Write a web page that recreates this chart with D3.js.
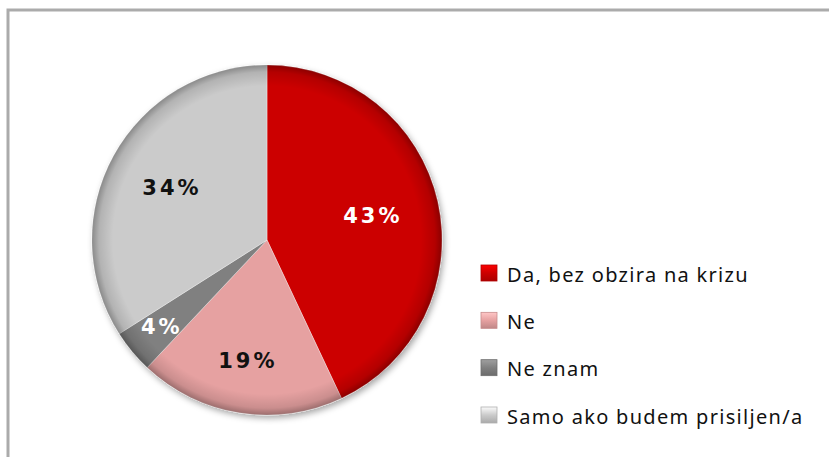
<!DOCTYPE html>
<html>
<head>
<meta charset="utf-8">
<script src="https://cdn.jsdelivr.net/npm/d3@7"></script>
<style>
  body { margin: 0; background: #fff; }
  svg { display: block; }
</style>
</head>
<body>
<div id="chart"></div>
<script>
// podaci za grafikon
const categories = ['Da, bez obzira na krizu', 'Ne', 'Ne znam', 'Samo ako budem prisiljen/a'];
const values = [43, 19, 4, 34];
const colors = ['#cc0000', '#e6a1a1', '#808080', '#cbcbcb'];
const labelColors = ['#ffffff', '#111111', '#ffffff', '#111111'];

const width = 829, height = 457;
const cx = 267, cy = 240, R = 175;

const svg = d3.select('#chart').append('svg')
    .attr('width', width)
    .attr('height', height);

const defs = svg.append('defs');

// sjena ispod pite
const shadow = defs.append('filter').attr('id', 'shadow')
    .attr('x', '-20%').attr('y', '-20%').attr('width', '140%').attr('height', '140%');
shadow.append('feDropShadow')
    .attr('dx', 2).attr('dy', 3).attr('stdDeviation', 3)
    .attr('flood-color', '#000').attr('flood-opacity', 0.35);

// rub zatamnjen (bevel)
const rim = defs.append('radialGradient').attr('id', 'rim')
    .attr('gradientUnits', 'userSpaceOnUse')
    .attr('cx', 0).attr('cy', 0).attr('r', R);
rim.append('stop').attr('offset', '0%').attr('stop-color', '#000').attr('stop-opacity', 0);
rim.append('stop').attr('offset', '88%').attr('stop-color', '#000').attr('stop-opacity', 0);
rim.append('stop').attr('offset', '96%').attr('stop-color', '#000').attr('stop-opacity', 0.12);
rim.append('stop').attr('offset', '100%').attr('stop-color', '#000').attr('stop-opacity', 0.32);

// gradijent za kvadratiće legende
colors.forEach((c, i) => {
    const g = defs.append('linearGradient').attr('id', 'lg' + i)
        .attr('x1', 0).attr('y1', 0).attr('x2', 0).attr('y2', 1);
    g.append('stop').attr('offset', '0%').attr('stop-color', d3.color(c).brighter(0.6));
    g.append('stop').attr('offset', '50%').attr('stop-color', c);
    g.append('stop').attr('offset', '100%').attr('stop-color', d3.color(c).darker(0.5));
});

// okvir grafikona
svg.append('rect')
    .attr('x', 8).attr('y', 10)
    .attr('width', 900).attr('height', 600)
    .attr('fill', 'none')
    .attr('stroke', '#ababab')
    .attr('stroke-width', 3);

const pie = d3.pie().sort(null).value(d => d);
const arcs = pie(values);
const arc = d3.arc().innerRadius(0).outerRadius(R);

const g = svg.append('g').attr('transform', `translate(${cx},${cy})`);

const slices = g.append('g').attr('filter', 'url(#shadow)');
slices.selectAll('path.slice')
    .data(arcs)
    .enter()
    .append('path')
    .attr('class', 'slice')
    .attr('d', arc)
    .attr('fill', (d, i) => colors[i])
    .attr('stroke', 'rgba(255,255,255,0.35)')
    .attr('stroke-width', 1);

g.selectAll('path.rim')
    .data(arcs)
    .enter()
    .append('path')
    .attr('class', 'rim')
    .attr('d', arc)
    .attr('fill', 'url(#rim)');

// oznake postotaka
const labelR = d => {
    const share = (d.endAngle - d.startAngle) / (2 * Math.PI);
    return R * (share < 0.1 ? 0.78 : share < 0.25 ? 0.7 : 0.62);
};
g.selectAll('text.pct')
    .data(arcs)
    .enter()
    .append('text')
    .attr('class', 'pct')
    .attr('transform', d => {
        const a = (d.startAngle + d.endAngle) / 2;
        const r = labelR(d);
        return `translate(${r * Math.sin(a)},${-r * Math.cos(a)})`;
    })
    .attr('text-anchor', 'middle')
    .attr('dominant-baseline', 'central')
    .attr('font-family', 'DejaVu Sans, Verdana, sans-serif')
    .attr('font-weight', 'bold')
    .attr('font-size', '21px')
    .attr('letter-spacing', '3px')
    .attr('fill', (d, i) => labelColors[i])
    .text(d => d.data + '%');

// legenda
const legendY = d3.scalePoint().domain(categories).range([273, 415]);
const legend = svg.append('g').attr('class', 'legend');
const item = legend.selectAll('g.item')
    .data(categories)
    .enter()
    .append('g')
    .attr('class', 'item')
    .attr('transform', d => `translate(481,${legendY(d)})`);
item.append('rect')
    .attr('x', 0).attr('y', -8)
    .attr('width', 16).attr('height', 16)
    .attr('fill', (d, i) => `url(#lg${i})`)
    .attr('stroke', (d, i) => d3.color(colors[i]).darker(0.4))
    .attr('stroke-width', 0.8);
item.append('text')
    .attr('x', 26)
    .attr('y', 1)
    .attr('dominant-baseline', 'central')
    .attr('font-family', 'Noto Sans, DejaVu Sans, sans-serif')
    .attr('font-size', '20px')
    .attr('letter-spacing', '1.3px')
    .attr('fill', '#111')
    .text(d => d);
</script>
</body>
</html>
